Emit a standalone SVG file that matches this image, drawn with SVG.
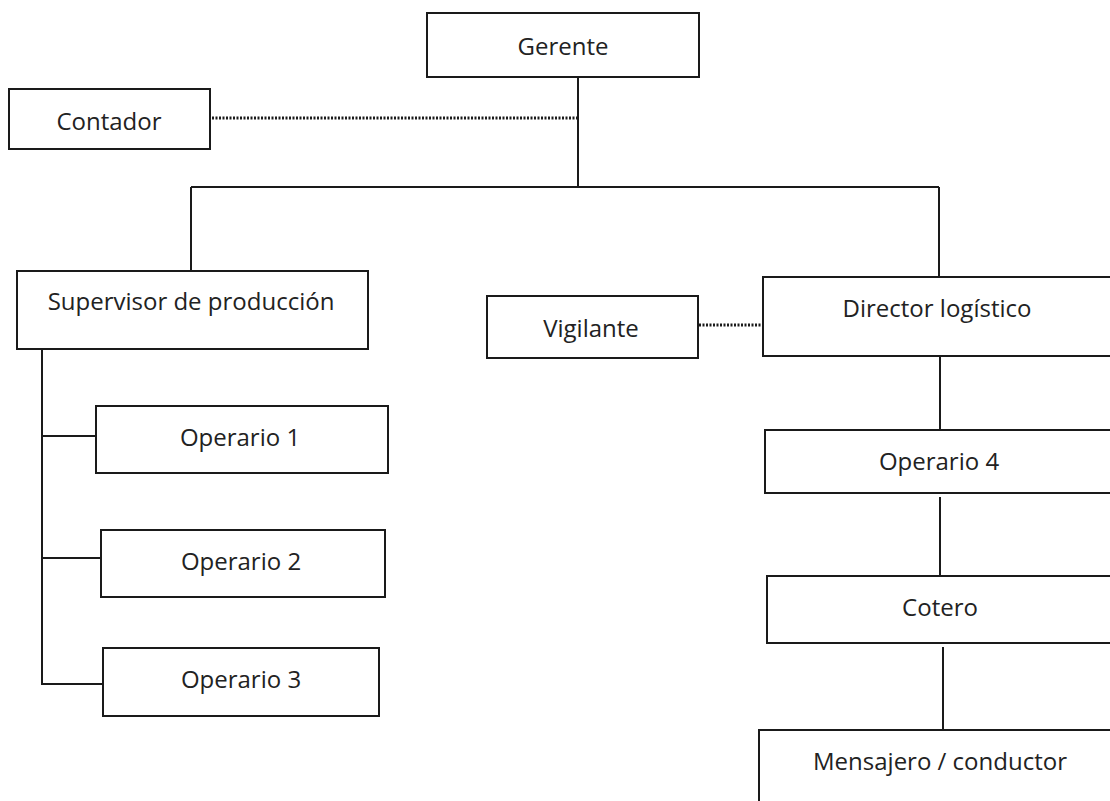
<svg xmlns="http://www.w3.org/2000/svg" width="1110" height="801" viewBox="0 0 1110 801">
<style>
.box{fill:#fff;stroke:#1a1a1a;stroke-width:2}
.ln{fill:none;stroke:#1a1a1a;stroke-width:2}
.dot{fill:none;stroke:#1a1a1a;stroke-width:3;stroke-dasharray:2 1.5}
text{font-family:"Open Sans","Liberation Sans",sans-serif;font-size:24px;fill:#222;text-anchor:middle}
</style>
<rect width="1110" height="801" fill="#fff"/>
<g id="connectors">
<path class="ln" d="M578 77V187M191 187H939M191 187V271M939 187V277"/>
<path class="dot" d="M212 118H577"/>
<path class="dot" d="M699 325H762"/>
<path class="ln" d="M42 349V684H103M42 436H96M42 558H101"/>
<path class="ln" d="M940 350V430M940 497V576M943 647V730"/>
</g>
<g id="gerente"><rect class="box" x="427" y="13" width="272" height="64"/><text x="563" y="55">Gerente</text></g>
<g id="contador"><rect class="box" x="9" y="89" width="201" height="60"/><text x="109" y="130">Contador</text></g>
<g id="supervisor"><rect class="box" x="17" y="271" width="351" height="78"/><text x="191" y="310">Supervisor de producción</text></g>
<g id="operario1"><rect class="box" x="96" y="406" width="292" height="67"/><text x="240" y="446">Operario 1</text></g>
<g id="operario2"><rect class="box" x="101" y="530" width="284" height="67"/><text x="241" y="570">Operario 2</text></g>
<g id="operario3"><rect class="box" x="103" y="648" width="276" height="68"/><text x="241" y="688">Operario 3</text></g>
<g id="vigilante"><rect class="box" x="487" y="296" width="211" height="62"/><text x="591" y="337">Vigilante</text></g>
<g id="director"><rect class="box" x="763" y="277" width="360" height="79"/><text x="937" y="317">Director logístico</text></g>
<g id="operario4"><rect class="box" x="765" y="430" width="360" height="63"/><text x="939" y="470">Operario 4</text></g>
<g id="cotero"><rect class="box" x="767" y="576" width="360" height="67"/><text x="940" y="616">Cotero</text></g>
<g id="mensajero"><rect class="box" x="759" y="730" width="360" height="90"/><text x="940" y="770">Mensajero / conductor</text></g>
</svg>
